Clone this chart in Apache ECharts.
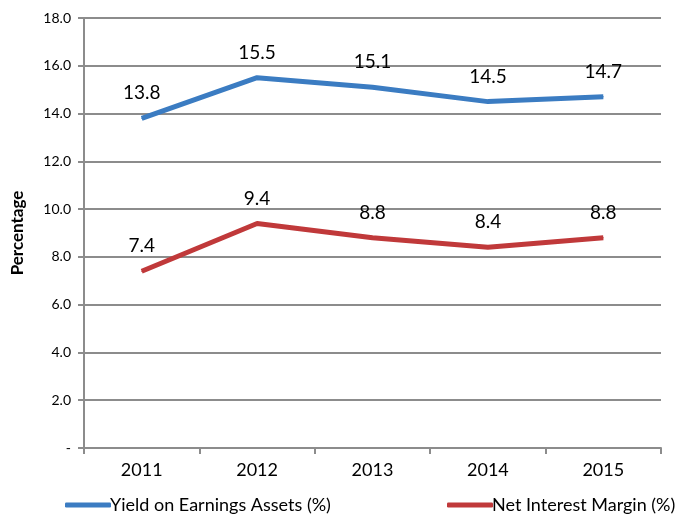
<!DOCTYPE html>
<html><head><meta charset="utf-8">
<script src="https://cdn.jsdelivr.net/npm/echarts@6/dist/echarts.min.js"></script>
<style>html,body{margin:0;padding:0;background:#fff}#c{width:678px;height:517px}</style>
</head><body><div id="c"></div>
<script>
const years = ['2011','2012','2013','2014','2015'];
const yieldVals = [13.8, 15.5, 15.1, 14.5, 14.7];
const nimVals = [7.4, 9.4, 8.8, 8.4, 8.8];
const seriesNames = ['Yield on Earnings Assets (%)', 'Net Interest Margin (%)'];
const font = 'Lato, "Open Sans", sans-serif';
const chart = echarts.init(document.getElementById('c'));
const lbl = {show:true, position:'top', distance:15, fontSize:19, color:'#000', fontFamily:font, formatter:p=>p.value.toFixed(1)};
chart.setOption({
  animation:false,
  grid:{left:84, right:17, top:18, bottom:69},
  legend:[
    {data:[seriesNames[0]], left:60, top:493, padding:[2,5,2,5], itemWidth:46, itemHeight:5, icon:'roundRect',
     textStyle:{fontSize:18, lineHeight:20, fontFamily:font, color:'#000', padding:[0,0,0,-6]}},
    {data:[seriesNames[1]], left:442, top:493, padding:[2,5,2,5], itemWidth:46, itemHeight:5, icon:'roundRect',
     textStyle:{fontSize:18, lineHeight:20, fontFamily:font, color:'#000', padding:[0,0,0,-6]}}
  ],
  xAxis:{type:'category', data:years, boundaryGap:true,
    axisLine:{lineStyle:{color:'#8c8c8c', width:2}},
    axisTick:{show:true, length:6, lineStyle:{color:'#8c8c8c', width:2}},
    axisLabel:{fontSize:18, color:'#000', fontFamily:font, margin:13}},
  yAxis:{type:'value', min:0, max:18, interval:2,
    name:'Percentage', nameLocation:'middle', nameGap:58, nameRotate:90,
    nameTextStyle:{fontSize:17, fontWeight:'bold', color:'#000', fontFamily:font},
    axisLine:{show:true, lineStyle:{color:'#8c8c8c', width:2}},
    axisTick:{show:true, length:6, lineStyle:{color:'#8c8c8c', width:2}},
    splitLine:{lineStyle:{color:'#8c8c8c', width:2}},
    axisLabel:{fontSize:14, color:'#000', fontFamily:font, margin:13, formatter:v=>v===0?'-':v.toFixed(1)}},
  series:[
    {name:seriesNames[0], type:'line', data:yieldVals, symbol:'circle', symbolSize:1, showSymbol:true, lineStyle:{color:'#3b7cc2', width:5}, itemStyle:{color:'#3b7cc2'}, label:lbl},
    {name:seriesNames[1], type:'line', data:nimVals, symbol:'circle', symbolSize:1, showSymbol:true, lineStyle:{color:'#c0393a', width:5}, itemStyle:{color:'#c0393a'}, label:lbl}
  ]
});
</script></body></html>
